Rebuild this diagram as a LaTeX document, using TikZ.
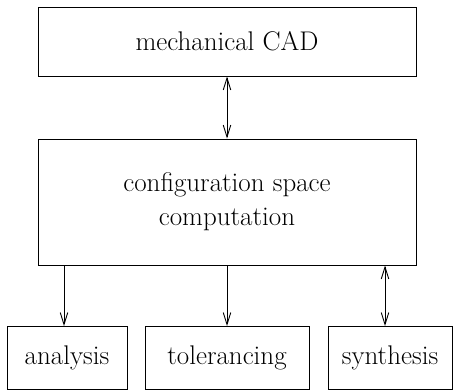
\documentclass[tikz,border=0pt]{standalone}
\usetikzlibrary{calc,arrows.meta,positioning}

\begin{document}
\begin{tikzpicture}[x=1pt,y=-1pt]
		\tikzstyle{box}=[draw, line width=0.9pt, inner sep=0pt, font=\fontsize{27}{34}\selectfont, align=center]
		\tikzstyle{link}=[line width=0.9pt, arrows={-Straight Barb[length=12pt,width=7.5pt]}]
		\tikzstyle{link2}=[line width=0.9pt, arrows={Straight Barb[length=12pt,width=7.5pt]-Straight Barb[length=12pt,width=7.5pt]}]

		\useasboundingbox (0,0) rectangle (454,391);

		\node[box, minimum width=378pt, minimum height=69pt] (mcad) at (227,41.5) {mechanical CAD};
		\node[box, minimum width=378pt, minimum height=126pt] (cspace) at (227,202) {configuration space\\computation};
		\node[box, minimum width=120pt, minimum height=63pt] (anal) at (67,358) {analysis};
		\node[box, minimum width=164pt, minimum height=63pt] (tol) at (227,358) {tolerancing};
		\node[box, minimum width=124pt, minimum height=63pt] (synth) at (390,358) {synthesis};

		\draw [link2] (mcad) to (cspace);
		\draw [link] (cspace.south -| 64,0) to (anal.north -| 64,0);
		\draw [link] (cspace) to (tol);
		\draw [link2] (cspace.south -| 385,0) to (synth.north -| 385,0);

    \end{tikzpicture}
\end{document}
